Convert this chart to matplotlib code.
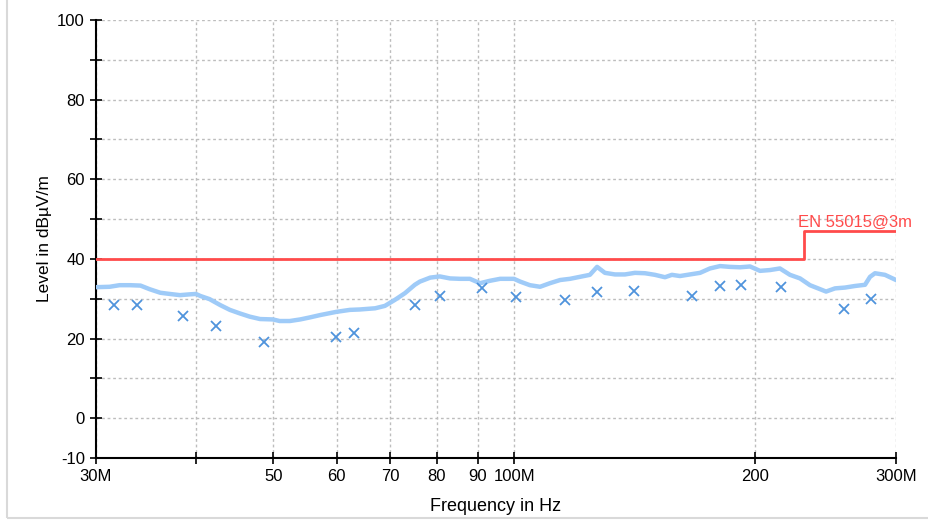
import matplotlib
matplotlib.use("Agg")
import matplotlib.pyplot as plt
from matplotlib.patches import Rectangle

plt.rcParams["font.family"] = ["Liberation Sans", "DejaVu Sans"]

# measured trace (MHz, dBuV/m)
trace_freq = [30.0, 31.2, 32.1, 33.1, 34.1, 35.0, 36.1, 37.1, 38.2, 39.3, 40.0, 40.5,
              41.6, 42.9, 44.1, 45.4, 46.7, 48.1, 49.9, 50.9, 52.4, 54.0, 55.5, 57.2,
              59.9, 62.3, 64.1, 67.0, 68.9, 70.9, 73.0, 75.1, 76.2, 78.5, 80.7, 83.1,
              85.5, 88.0, 90.6, 93.2, 96.0, 99.9, 101.7, 104.6, 107.7, 110.8, 114.1,
              117.4, 120.8, 124.3, 126.9, 129.8, 133.6, 137.5, 141.5, 145.7, 149.9,
              154.3, 157.4, 161.1, 165.8, 170.7, 175.6, 180.8, 186.0, 191.5, 197.1,
              202.8, 208.7, 214.8, 221.1, 227.6, 234.2, 241.1, 245.3, 251.7, 259.0,
              266.6, 274.4, 278.4, 282.4, 290.6, 300.0]
trace_level = [32.9, 33.0, 33.4, 33.4, 33.3, 32.4, 31.5, 31.2, 30.9, 31.1, 31.2, 30.7,
               29.9, 28.4, 27.2, 26.3, 25.5, 24.9, 24.8, 24.4, 24.4, 24.8, 25.3, 25.9,
               26.7, 27.2, 27.3, 27.6, 28.2, 29.7, 31.4, 33.5, 34.3, 35.3, 35.6, 35.1,
               35.0, 35.0, 33.9, 34.5, 35.0, 35.0, 34.3, 33.4, 33.0, 33.9, 34.7,
               35.0, 35.5, 36.0, 38.0, 36.5, 36.1, 36.1, 36.5, 36.4, 36.0,
               35.4, 36.0, 35.7, 36.1, 36.5, 37.6, 38.2, 38.0, 37.9, 38.1,
               37.0, 37.2, 37.6, 36.0, 35.1, 33.4, 32.4, 31.8, 32.6, 32.8,
               33.2, 33.5, 35.5, 36.4, 36.0, 34.7]

# final (quasi-peak) measurement points
peak_freq = [31.6, 33.8, 38.5, 42.4, 48.6, 59.9, 63.0, 75.2, 80.8, 91.0, 100.6,
             115.8, 127.0, 141.3, 167.0, 181.0, 192.0, 215.4, 258.1, 278.8]
peak_level = [28.4, 28.4, 25.7, 23.2, 19.1, 20.4, 21.4, 28.4, 30.7, 32.7, 30.4,
              29.7, 31.7, 31.9, 30.7, 33.2, 33.5, 33.0, 27.4, 29.9]

# EN 55015 limit
limit_freq = [30, 230, 300]
limit_level = [40, 47, 47]
limit_label = "EN 55015@3m"

x_ticks = [30, 40, 50, 60, 70, 80, 90, 100, 200, 300]
x_labels = ["30M", "", "50", "60", "70", "80", "90", "100M", "200", "300M"]
y_ticks = list(range(-10, 101, 10))
y_labels = ["-10", "0", "", "20", "", "40", "", "60", "", "80", "", "100"]

fig = plt.figure(figsize=(9.29, 5.24), dpi=100)
fig.patches.append(Rectangle((7 / 929, 6 / 524), 1.1, 1.1, transform=fig.transFigure,
                             fill=False, edgecolor="#d9d9d9", lw=1.5))
ax = fig.add_axes([96 / 929, 1 - 458 / 524, 800 / 929, 438 / 524])

ax.plot(trace_freq, trace_level, color="#9fcbf8", lw=3.2, zorder=3)
ax.plot(peak_freq, peak_level, "x", color="#4f93dc", ms=7, mew=1.3, zorder=4)
ax.plot(limit_freq, limit_level, color="#ff4b4b", lw=2, drawstyle="steps-post", zorder=5)
ax.text(226, 49.3, limit_label, color="#ff4b4b", fontsize=12, ha="left", va="center")

ax.set_xscale("log")
ax.set_xlim(30, 300)
ax.set_ylim(-10, 100)
ax.set_xticks(x_ticks)
ax.set_xticklabels(x_labels)
ax.xaxis.set_minor_locator(matplotlib.ticker.NullLocator())
ax.set_yticks(y_ticks)
ax.set_yticklabels(y_labels)
ax.tick_params(direction="inout", length=8, width=1.2, labelsize=12, pad=4, color="black")

ax.grid(True, color="#bdbdbd", linestyle=(0, (2, 2)), lw=1)
for side in ("top", "right"):
    ax.spines[side].set_visible(False)
for side in ("left", "bottom"):
    ax.spines[side].set_linewidth(1.5)

ax.set_xlabel("Frequency in Hz", fontsize=13, labelpad=10)
ax.set_ylabel("Level in dBµV/m", fontsize=12.5)

plt.savefig("out.png", dpi=100)
plt.close()
